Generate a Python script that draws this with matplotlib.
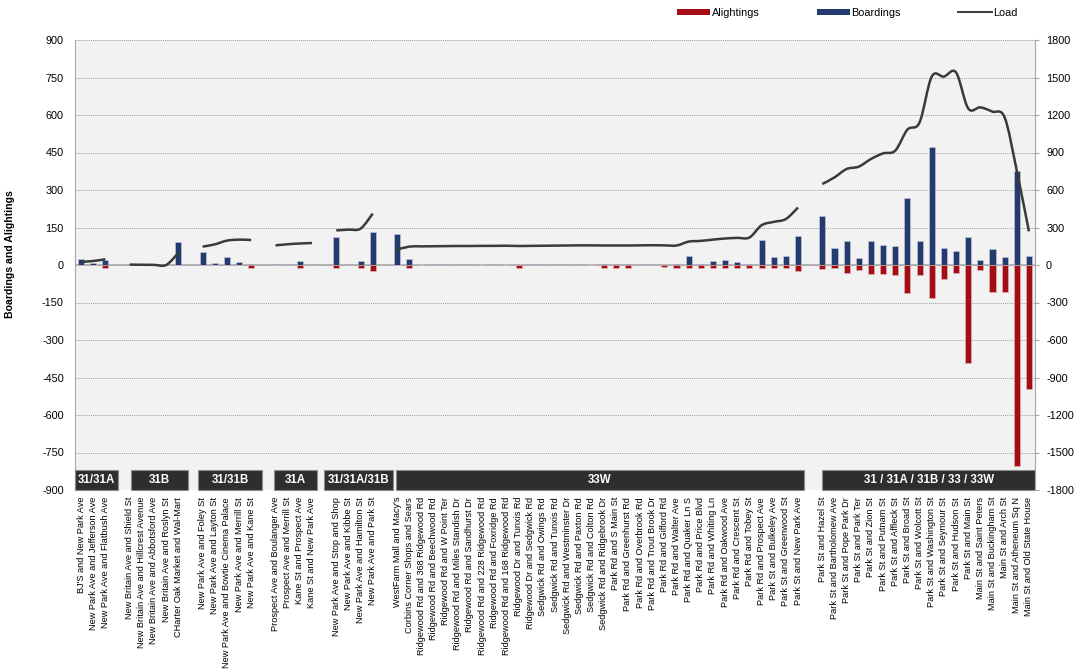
import numpy as np
import matplotlib.pyplot as plt
from matplotlib.path import Path
from matplotlib.patches import PathPatch, Rectangle, Patch
from matplotlib.lines import Line2D

plt.rcParams['font.family'] = ['Liberation Sans', 'DejaVu Sans']
plt.rcParams['axes.unicode_minus'] = False

# route segments, in running order
routes = ['31/31A', '31B', '31/31B', '31A', '31/31A/31B', '33W', '31 / 31A / 31B / 33 / 33W']

stops = [
    ["BJ'S and New Park Ave", 'New Park Ave and Jefferson Ave', 'New Park Ave and Flatbush Ave'],
    ['New Britain Ave and Shield St', 'New Britain Ave and Hillcrest Avenue',
     'New Britain Ave and Abbotsford Ave', 'New Britain Ave and Roslyn St',
     'CHarter Oak Market and Wal-Mart'],
    ['New Park Ave and Foley St', 'New Park Ave and Layton St',
     'New Park Ave and Bowtie Cinema Palace', 'New Park Ave and Merrill St',
     'New Park Ave and Kane St'],
    ['Prospect Ave and Boulanger Ave', 'Prospect Ave and Merrill St',
     'Kane St and Prospect Ave', 'Kane St and New Park Ave'],
    ['New Park Ave and Stop and Shop', 'New Park Ave and Kibbe St',
     'New Park Ave and Hamilton St', 'New Park Ave and Park St'],
    ["WestFarm Mall and Macy's", 'Corbins Corner Shops and Sears',
     'Ridgewood Rd and 368 Ridgewood Rd', 'Ridgewood Rd and Beechwood Rd',
     'Ridgewood Rd and W Point Ter', 'Ridgewood Rd and Miles Standish Dr',
     'Ridgewood Rd and Sandhurst Dr', 'Ridgewood Rd and 228 Ridgewood Rd',
     'Ridgewood Rd and Foxridge Rd', 'Ridgewood Rd and 168 Ridgewood Rd',
     'Ridgewood Dr and Tunxis Rd', 'Ridgewood Dr and Sedgwick Rd',
     'Sedgwick Rd and Owings Rd', 'Sedgwick Rd and Tunxis Rd',
     'Sedgwick Rd and Westminster Dr', 'Sedgwick Rd and Paxton Rd',
     'Sedgwick Rd and Colton Rd', 'Sedgwick Rd and Ridgebrook Dr',
     'Park Rd and S Main St', 'Park Rd and Greenhurst Rd', 'Park Rd and Overbrook Rd',
     'Park Rd and Trout Brook Dr', 'Park Rd and Gifford Rd', 'Park Rd and Walter Ave',
     'Park Rd and Quaker Ln S', 'Park Rd and Price Blvd', 'Park Rd and Whiting Ln',
     'Park Rd and Oakwood Ave', 'Park Rd and Crescent St', 'Park Rd and Tobey St',
     'Park Rd and Prospect Ave', 'Park St and Bulkeley Ave', 'Park St and Greenwood St',
     'Park St and New Park Ave'],
    ['Park St and Hazel St', 'Park St and Bartholomew Ave', 'Park St and Pope Park Dr',
     'Park St and Park Ter', 'Park St and Zion St', 'Park St and Putnam St',
     'Park St and Affleck St', 'Park St and Broad St', 'Park St and Wolcott St',
     'Park St and Washington St', 'Park St and Seymour St', 'Park St and Hudson St',
     'Park St and Main St', 'Main St and Saint Peters', 'Main St and Buckingham St',
     'Main St and Arch St', 'Main St and Atheneum Sq N', 'Main St and Old State House'],
]

boardings = [
    [23, 7, 20],
    [3, 0, 0, 0, 92],
    [53, 9, 32, 11, 5],
    [5, 5, 15, 5],
    [112, 5, 15, 133],
    [123, 24, 0, 5, 5, 5, 5, 0, 5, 0, 0, 5, 5, 5, 5, 5, 0, 5, 5, 5, 5, 5, 0, 5,
     37, 5, 16, 20, 12, 5, 101, 32, 37, 117],
    [195, 67, 97, 28, 97, 80, 76, 267, 97, 473, 67, 55, 113, 20, 63, 33, 377, 37],
]

alightings = [
    [0, 0, 10],
    [0, 0, 0, 0, 0],
    [0, 0, 0, 0, 12],
    [0, 0, 11, 0],
    [11, 0, 11, 23],
    [0, 11, 0, 0, 0, 0, 0, 0, 0, 0, 10, 0, 0, 0, 0, 0, 0, 10, 10, 10, 0, 0, 8, 10,
     10, 10, 10, 10, 10, 10, 13, 10, 10, 23],
    [17, 12, 33, 21, 37, 37, 41, 111, 41, 132, 56, 33, 393, 21, 107, 107, 804, 495],
]

load = [
    [25, 32, 46],
    [3, 2, 1, 0, 96],
    [147, 165, 195, 203, 200],
    [157, 166, 172, 176],
    [277, 283, 291, 411],
    [123, 147, 149, 150, 151, 152, 152, 153, 153, 154, 152, 153, 154, 155, 156, 157,
     157, 156, 156, 156, 157, 158, 157, 156, 187, 193, 203, 212, 217, 220, 318, 345,
     368, 460],
    [648, 701, 768, 787, 848, 893, 915, 1083, 1141, 1507, 1507, 1541, 1253, 1261,
     1227, 1181, 755, 269],
]

# route boxes along the bottom, in slot units
route_boxes = [(-0.5, 3.05), (4.1, 8.8), (9.6, 14.9), (15.9, 19.4),
               (20.0, 25.7), (25.9, 59.5), (61.0, 78.5)]

RED = '#A50D14'
NAVY = '#233B6E'
LINE = '#3A3A3A'


def smooth_path(xs, ys):
    # Catmull-Rom style bezier through the points
    pts = np.column_stack([xs, ys]).astype(float)
    n = len(pts)
    verts = [pts[0]]
    codes = [Path.MOVETO]
    for i in range(n - 1):
        p0 = pts[i - 1] if i > 0 else pts[i]
        p1 = pts[i]
        p2 = pts[i + 1]
        p3 = pts[i + 2] if i + 2 < n else p2
        verts += [p1 + (p2 - p0) / 6, p2 - (p3 - p1) / 6, p2]
        codes += [Path.CURVE4] * 3
    return Path(verts, codes)


# lay the stops out with one empty slot between routes
labels = []
positions = []
pos = 0
for g, names in enumerate(stops):
    positions.append(list(range(pos, pos + len(names))))
    labels += names
    pos += len(names)
    if g < len(stops) - 1:
        labels.append('')
        pos += 1

fig = plt.figure(figsize=(10.77, 6.71), dpi=100)
ax1 = fig.add_axes([75 / 1077, 1 - 490 / 671, 960 / 1077, 450 / 671])
ax2 = ax1.twinx()

ax1.set_facecolor('#F2F2F2')
ax1.set_axisbelow(True)
ax1.yaxis.grid(True, linestyle=(0, (1, 1)), color='#A0A0A0', linewidth=0.7)

for g in range(len(stops)):
    x = positions[g]
    ax1.bar(x, boardings[g], width=0.5, color=NAVY, edgecolor='#C9CEDD',
            linewidth=0.4, zorder=3)
    ax1.bar(x, [-a for a in alightings[g]], width=0.5, color=RED,
            edgecolor='#E2B9BB', linewidth=0.4, zorder=3)
    ax2.add_patch(PathPatch(smooth_path(x, load[g]), fill=False, edgecolor=LINE,
                            linewidth=1.8, zorder=4))

ax1.axhline(0, color='#A8A8A8', linewidth=1.2, zorder=2)

for (x0, x1), name in zip(route_boxes, routes):
    ax1.add_patch(Rectangle((x0, -900), x1 - x0, 82, facecolor='#2E2E2E',
                            edgecolor='#8C8C8C', linewidth=0.8, zorder=6,
                            clip_on=False))
    ax1.text((x0 + x1) / 2, -859, name, color='white', fontsize=8.3,
             fontweight='bold', ha='center', va='center', zorder=7)

ax1.set_xlim(-0.5, len(labels) - 0.5)
ax1.set_ylim(-900, 900)
ax2.set_ylim(-1800, 1800)
ax1.set_yticks(np.arange(-900, 901, 150))
ax2.set_yticks(np.arange(-1800, 1801, 300))

ax1.set_xticks(range(len(labels)))
ax1.set_xticklabels(labels, rotation=90, fontsize=6.55, va='top', ha='center')
ax1.tick_params(axis='x', length=0, pad=5)
ax1.tick_params(axis='y', labelsize=7.8, length=0, pad=8)
ax2.tick_params(axis='y', labelsize=7.8, length=3, color='#A6A6A6', pad=5)

for ax in (ax1, ax2):
    for side in ('top', 'bottom'):
        ax.spines[side].set_visible(False)
ax1.spines['right'].set_visible(False)
ax1.spines['left'].set_color('#A6A6A6')
ax2.spines['left'].set_visible(False)
ax2.spines['right'].set_color('#A6A6A6')

ax1.set_ylabel('Boardings and Alightings', fontsize=7.6, fontweight='bold')
ax1.yaxis.set_label_coords(-0.062, 0.525)

handles = [Patch(facecolor=RED, edgecolor='none'),
           Patch(facecolor=NAVY, edgecolor='none'),
           Line2D([], [], color=LINE, linewidth=1.4)]
fig.legend(handles, ['Alightings', 'Boardings', 'Load'], loc='center',
           bbox_to_anchor=(847 / 1077, 1 - 13 / 671), ncol=3, frameon=False,
           fontsize=7.8, handlelength=3.1, handleheight=0.55, handletextpad=0.1,
           columnspacing=5.3)

fig.savefig('out.png', dpi=100)
